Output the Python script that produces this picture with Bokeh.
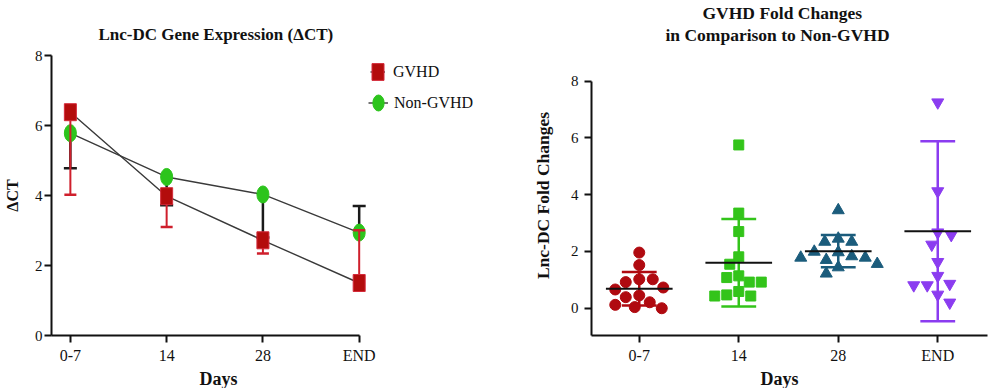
import numpy as np
from bokeh.plotting import figure
from bokeh.layouts import row
from bokeh.models import (ColumnDataSource, FixedTicker, Legend, LegendItem,
                          Title, Range1d)
from bokeh.embed import file_html
from bokeh.resources import INLINE

FONT = "Liberation Serif"

# ---------------- data ----------------
days = ["0-7", "14", "28", "END"]

# left panel: mean delta-CT and the end of the (one-sided) error bar
gvhd_mean = [6.38, 3.98, 2.72, 1.50]
gvhd_bar_end = [4.02, 3.10, 2.34, 3.01]
non_gvhd_mean = [5.78, 4.53, 4.03, 2.94]
non_gvhd_bar_end = [4.78, 3.72, 2.80, 3.70]

# right panel: individual fold changes per group
fc_0_7 = [1.96, 1.52, 1.02, 1.02, 0.92, 0.73, 0.66, 0.39, 0.45, 0.12, 0.21, 0.00, 0.04]
fc_14 = [5.75, 3.35, 2.70, 1.81, 1.55, 1.14, 1.08, 0.92, 0.92, 0.59, 0.47, 0.43, 0.43]
fc_28 = [3.45, 2.45, 2.34, 2.34, 1.99, 1.97, 1.83, 1.78, 1.78, 1.70, 1.56, 1.44, 1.22]
fc_end = [7.25, 4.12, 2.67, 2.58, 2.24, 1.63, 1.14, 0.86, 0.81, 0.81, 0.48, 0.20]
fc_mean = [0.69, 1.60, 2.01, 2.71]
fc_sd = [0.59, 1.54, 0.57, 3.17]

xi = list(range(len(days)))
labels = {i: d for i, d in enumerate(days)}


def style_axis(ax, tick_out, standoff, label_size):
    ax.axis_line_width = 2
    ax.axis_line_color = "#111111"
    ax.major_tick_line_width = 2
    ax.major_tick_line_color = "#111111"
    ax.major_tick_in = 0
    ax.major_tick_out = tick_out
    ax.minor_tick_line_color = None
    ax.major_label_standoff = standoff
    ax.major_label_text_font = FONT
    ax.major_label_text_font_size = label_size
    ax.major_label_text_color = "#111111"
    ax.axis_label_text_font = FONT
    ax.axis_label_text_font_style = "bold"
    ax.axis_label_text_color = "#111111"


def title(text, offset, standoff, size="17px", **kw):
    return Title(text=text, align="left", offset=offset, standoff=standoff,
                 text_font=FONT, text_font_style="bold", text_font_size=size,
                 text_color="#111111", **kw)


W, H = 500, 388
TOP, BOTTOM = 55, 52

# ======================= LEFT PANEL =======================
p1 = figure(width=W, height=H, output_backend="svg", toolbar_location=None,
            title=None, x_range=Range1d(-0.196, 4.364), y_range=Range1d(0, 8),
            min_border_left=49, min_border_right=10, min_border_top=TOP,
            min_border_bottom=BOTTOM)
p1.outline_line_color = None
p1.xgrid.visible = False
p1.ygrid.visible = False

xa = p1.xaxis[0]
style_axis(xa, 7, 4, "16px")
xa.ticker = FixedTicker(ticks=xi)
xa.major_label_overrides = labels
xa.bounds = (-0.2, 3.0)

ya = p1.yaxis[0]
style_axis(ya, 7, 2, "15px")
ya.ticker = FixedTicker(ticks=[0, 2, 4, 6, 8])
ya.axis_label = "ΔCT"
ya.axis_label_text_font_size = "16px"
ya.axis_label_standoff = 11

LINE = "#3a3a3a"
RED = "#b30c0c"
RED_EDGE = "#d42a3a"
RED_BAR = "#cf1f2c"
GREEN = "#2cc41c"

line_g = p1.line(xi, gvhd_mean, line_color=LINE, line_width=1.4)
line_n = p1.line(xi, non_gvhd_mean, line_color=LINE, line_width=1.4)

# black (Non-GVHD) error bars
p1.segment(x0=xi, y0=non_gvhd_mean, x1=xi, y1=non_gvhd_bar_end,
           line_color="#1a1a1a", line_width=2.5)
p1.scatter(xi, non_gvhd_bar_end, marker="dash", size=13,
           line_color="#1a1a1a", line_width=2.5)

circ = p1.ellipse(xi, non_gvhd_mean, width=12, height=17, width_units="screen",
                  height_units="screen", fill_color=GREEN, line_color=GREEN)

# red (GVHD) error bars
p1.segment(x0=xi, y0=gvhd_mean, x1=xi, y1=gvhd_bar_end,
           line_color=RED_BAR, line_width=2)
p1.scatter(xi, gvhd_bar_end, marker="dash", size=12,
           line_color=RED_BAR, line_width=2.5)

sq = p1.rect(xi, gvhd_mean, width=12, height=17, width_units="screen",
             height_units="screen", fill_color=RED, line_color=RED_EDGE,
             line_width=1)


def make_legend(label, rends, gw, loc, standoff):
    return Legend(items=[LegendItem(label=label, renderers=rends)], location=loc,
                  glyph_width=gw, glyph_height=21, label_height=21,
                  label_standoff=standoff, padding=0, margin=0, spacing=0,
                  border_line_color=None, background_fill_alpha=0,
                  label_text_font=FONT, label_text_font_size="16px",
                  label_text_color="#111111")


p1.add_layout(make_legend("GVHD", [line_g, sq], 15, (319, 253), 8))
p1.add_layout(make_legend("Non-GVHD", [line_n, circ], 20, (317, 222), 6))

p1.add_layout(title("Lnc-DC Gene Expression (ΔCT)", 47, 24), "above")
p1.add_layout(title("Days", 148, 0, size="18px"), "below")

# ======================= RIGHT PANEL =======================
p2 = figure(width=W, height=H, output_backend="svg", toolbar_location=None,
            title=None, x_range=Range1d(-0.48, 3.5), y_range=Range1d(-0.96, 8.90),
            min_border_left=91, min_border_right=13, min_border_top=TOP,
            min_border_bottom=BOTTOM)
p2.outline_line_color = None
p2.xgrid.visible = False
p2.ygrid.visible = False

xb = p2.xaxis[0]
style_axis(xb, 7, 4, "16px")
xb.ticker = FixedTicker(ticks=xi)
xb.major_label_overrides = labels

yb = p2.yaxis[0]
style_axis(yb, 7, 6, "15px")
yb.ticker = FixedTicker(ticks=[0, 2, 4, 6, 8])
yb.bounds = (-0.96, 8)
yb.axis_label = "Lnc-DC Fold Changes"
yb.axis_label_text_font_size = "17.5px"
yb.axis_label_standoff = 15

XPX = 396 / 3.98      # pixels per category unit
YPX = 281 / 9.86      # pixels per fold-change unit


def swarm(vals, diam, step=1.5):
    """Simple beeswarm: spread points sideways so that they don't overlap."""
    order = np.argsort(vals)[::-1]
    placed = []
    offs = np.zeros(len(vals))
    for n, i in enumerate(order):
        y = vals[i] * YPX
        sign = 1 if n % 2 else -1
        k = 0
        while True:
            c = ((k + 1) // 2) * step * (sign if k % 2 else -sign) if k else 0.0
            if all((c - px) ** 2 + (y - py) ** 2 >= diam ** 2 for px, py in placed):
                break
            k += 1
        placed.append((c, y))
        offs[i] = c / XPX
    return offs


groups = [fc_0_7, fc_14, fc_28, fc_end]
colors = ["#b00a10", "#33c41a", "#1b5c7c", "#8b3cf0"]
markers = ["circle", "square", "triangle", "inverted_triangle"]
sizes = [11, 10, 12, 12]

for i, (vals, col, mk, sz) in enumerate(zip(groups, colors, markers, sizes)):
    v = np.array(vals, dtype=float)
    xs = i + swarm(v, sz + 1.5)
    p2.scatter(xs, v, marker=mk, size=sz, fill_color=col, line_color=col)

mean = np.array(fc_mean)
sd = np.array(fc_sd)
xarr = np.array(xi, dtype=float)
src = ColumnDataSource(dict(x=xarr, lo=mean - sd, hi=mean + sd, m=mean,
                            cl=xarr - 0.175, cr=xarr + 0.175,
                            ml=xarr - 0.335, mr=xarr + 0.335, c=colors))
p2.segment(x0="x", y0="lo", x1="x", y1="hi", line_color="c", line_width=2.5, source=src)
p2.segment(x0="cl", y0="hi", x1="cr", y1="hi", line_color="c", line_width=2.5, source=src)
p2.segment(x0="cl", y0="lo", x1="cr", y1="lo", line_color="c", line_width=2.5, source=src)
p2.segment(x0="ml", y0="m", x1="mr", y1="m", line_color="#111111", line_width=2, source=src)

# titles (first added sits nearest to the plot)
p2.add_layout(Title(text=" ", standoff=8, text_font_size="1px"), "above")
p2.add_layout(title("in Comparison to Non-GVHD", 74, 0, size="17.5px"), "above")
p2.add_layout(title("GVHD Fold Changes", 111, 0, size="17.5px"), "above")
p2.add_layout(title("Days", 169, 0, size="18px"), "below")

layout = row(p1, p2)
open("out.html", "w").write(file_html(layout, INLINE))
